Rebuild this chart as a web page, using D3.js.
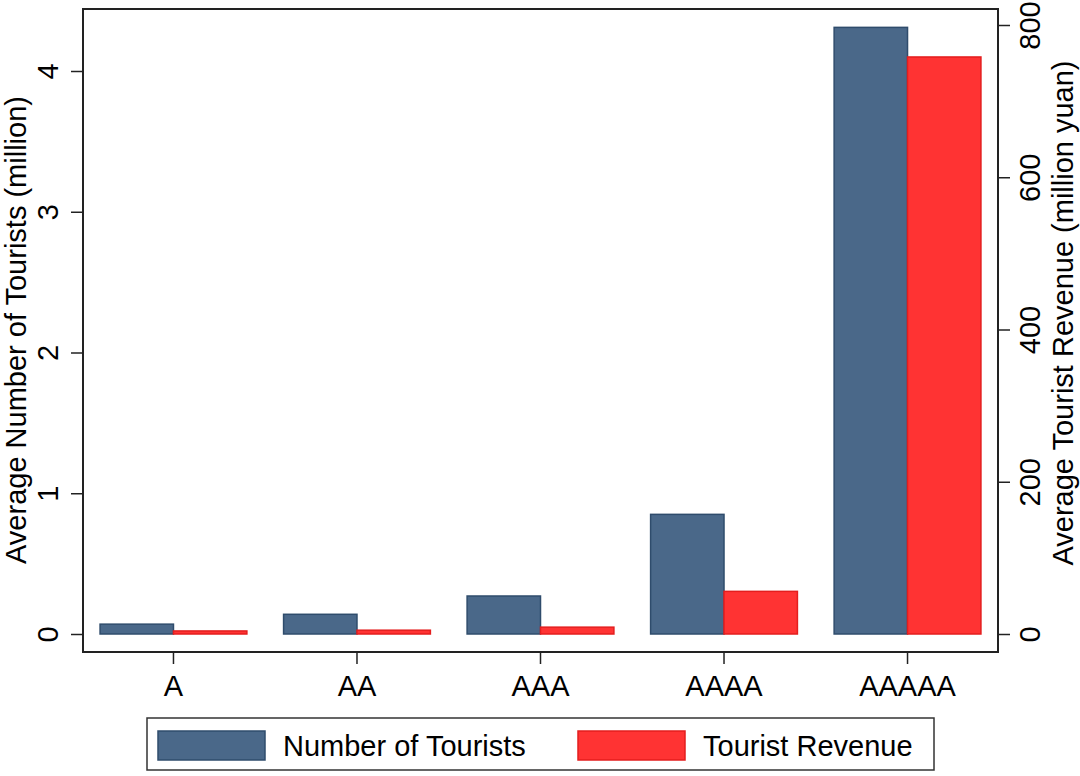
<!DOCTYPE html>
<html><head><meta charset="utf-8">
<script src="https://cdn.jsdelivr.net/npm/d3@7"></script>
<style>body{margin:0;background:#fff}svg{display:block}text{font-family:"Liberation Sans",Arial,sans-serif;fill:#000}</style>
</head><body><svg id="c" width="1080" height="776"></svg>
<script>
const categories = ["A","AA","AAA","AAAA","AAAAA"];
const tourists = [0.07, 0.14, 0.27, 0.85, 4.31];
const revenue = [4, 5, 9, 56, 758];
const leftTicks = [0,1,2,3,4];
const rightTicks = [0,200,400,600,800];
const seriesNames = ["Number of Tourists","Tourist Revenue"];

const FS = 29;
const svg = d3.select("#c");
const L=83, R=998, T=9, B=652;
const x = d3.scaleBand().domain(categories).range([L,R]).paddingInner(0.2).paddingOuter(0.093);
const yL = d3.scaleLinear().domain([0,4]).range([634,71]);
const yR = d3.scaleLinear().domain([0,800]).range([634,25]);
const bw = x.bandwidth()/2;

svg.append("rect").attr("x",L).attr("y",T).attr("width",R-L).attr("height",B-T).attr("fill","#fff");

const g = svg.append("g");
categories.forEach((c,i)=>{
  g.append("rect").attr("x",x(c)).attr("y",yL(tourists[i])).attr("width",bw).attr("height",yL(0)-yL(tourists[i]))
   .attr("fill","#4a6889").attr("stroke","#2f4c6c").attr("stroke-width",1.5);
  g.append("rect").attr("x",x(c)+bw).attr("y",yR(revenue[i])).attr("width",bw).attr("height",yR(0)-yR(revenue[i]))
   .attr("fill","#ff3333").attr("stroke","#e41e1e").attr("stroke-width",1.5);
});

svg.append("rect").attr("x",L).attr("y",T).attr("width",R-L).attr("height",B-T).attr("fill","none").attr("stroke","#222").attr("stroke-width",2);

// left axis
const la = svg.append("g").attr("transform",`translate(${L},0)`).call(d3.axisLeft(yL).tickValues(leftTicks).tickSize(12).tickFormat(d3.format("d")));
la.select(".domain").remove();
la.selectAll("line").attr("stroke","#222").attr("stroke-width",1.5);
la.selectAll("text").attr("font-size",FS).attr("text-anchor","middle").attr("x",0).attr("y",0).attr("dy","0.35em")
  .attr("transform","translate(-35,0) rotate(-90)");

// right axis
const ra = svg.append("g").attr("transform",`translate(${R},0)`).call(d3.axisRight(yR).tickValues(rightTicks).tickSize(12).tickFormat(d3.format("d")));
ra.select(".domain").remove();
ra.selectAll("line").attr("stroke","#222").attr("stroke-width",1.5);
ra.selectAll("text").attr("font-size",FS).attr("text-anchor","middle").attr("x",0).attr("y",0).attr("dy","0.35em")
  .attr("transform","translate(32,0) rotate(-90)");

// bottom axis
const ba = svg.append("g").attr("transform",`translate(0,${B})`).call(d3.axisBottom(x).tickSize(12));
ba.select(".domain").remove();
ba.selectAll("line").attr("stroke","#222").attr("stroke-width",1.5);
ba.selectAll("text").attr("font-size",FS).attr("y",34).attr("dy","0.35em");

// axis titles
svg.append("text").attr("transform",`translate(16,330) rotate(-90)`).attr("text-anchor","middle").attr("dy","0.35em").attr("font-size",FS).text("Average Number of Tourists (million)");
svg.append("text").attr("transform",`translate(1063,313) rotate(-90)`).attr("text-anchor","middle").attr("dy","0.35em").attr("font-size",FS).text("Average Tourist Revenue (million yuan)");

// legend
const lg = svg.append("g");
lg.append("rect").attr("x",147).attr("y",718).attr("width",787).attr("height",52).attr("fill","#fff").attr("stroke","#333").attr("stroke-width",1.5);
const items = [{n:seriesNames[0],f:"#4a6889",s:"#2f4c6c",x:158},{n:seriesNames[1],f:"#ff3333",s:"#e41e1e",x:578}];
items.forEach(it=>{
  lg.append("rect").attr("x",it.x).attr("y",731).attr("width",107).attr("height",29).attr("fill",it.f).attr("stroke",it.s).attr("stroke-width",1.5);
  lg.append("text").attr("x",it.x+125).attr("y",746).attr("dy","0.35em").attr("font-size",FS).text(it.n);
});
</script></body></html>
